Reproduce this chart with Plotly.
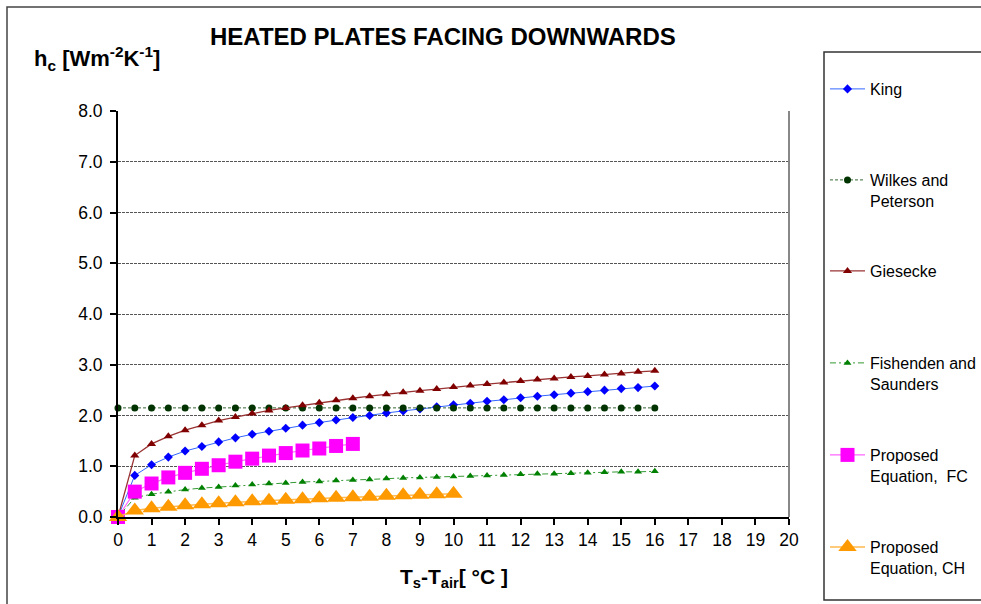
import plotly.graph_objects as go

# ---------------- data ----------------
x_half = [0, 0.5, 1, 1.5, 2, 2.5, 3, 3.5, 4, 4.5, 5, 5.5, 6, 6.5, 7, 7.5, 8,
          8.5, 9, 9.5, 10, 10.5, 11, 11.5, 12, 12.5, 13, 13.5, 14, 14.5, 15, 15.5, 16]

king = [0, 0.82, 1.03, 1.18, 1.30, 1.39, 1.48, 1.56, 1.63, 1.69, 1.75, 1.81, 1.86, 1.91,
        1.96, 2.00, 2.05, 2.09, 2.13, 2.17, 2.21, 2.24, 2.28, 2.31, 2.35, 2.38, 2.41,
        2.44, 2.47, 2.50, 2.53, 2.55, 2.58]

wilkes = [2.15, 2.15, 2.15, 2.15, 2.15, 2.15, 2.15, 2.15, 2.15, 2.15, 2.15, 2.15, 2.15,
          2.15, 2.15, 2.15, 2.15, 2.15, 2.15, 2.15, 2.15, 2.15, 2.15, 2.15, 2.15, 2.15,
          2.15, 2.15, 2.15, 2.15, 2.15, 2.15, 2.15]

giesecke = [0, 1.21, 1.44, 1.59, 1.71, 1.81, 1.90, 1.97, 2.04, 2.10, 2.15, 2.20, 2.25,
            2.30, 2.34, 2.38, 2.42, 2.46, 2.49, 2.52, 2.56, 2.59, 2.62, 2.65, 2.68, 2.71,
            2.73, 2.76, 2.78, 2.81, 2.83, 2.86, 2.88]

fishenden = [0, 0.38, 0.45, 0.50, 0.54, 0.57, 0.59, 0.62, 0.64, 0.66, 0.67, 0.69, 0.70,
             0.72, 0.73, 0.74, 0.76, 0.77, 0.78, 0.79, 0.80, 0.81, 0.82, 0.83, 0.84, 0.85,
             0.85, 0.86, 0.87, 0.88, 0.89, 0.89, 0.90]

x_fc = [0, 0.5, 1, 1.5, 2, 2.5, 3, 3.5, 4, 4.5, 5, 5.5, 6, 6.5, 7]
fc = [0, 0.50, 0.66, 0.78, 0.87, 0.95, 1.02, 1.09, 1.15, 1.21, 1.26, 1.31, 1.35, 1.40, 1.44]

x_ch = [0, 0.5, 1, 1.5, 2, 2.5, 3, 3.5, 4, 4.5, 5, 5.5, 6, 6.5, 7, 7.5, 8, 8.5, 9, 9.5, 10]
ch = [0, 0.13, 0.17, 0.20, 0.23, 0.25, 0.27, 0.29, 0.31, 0.32, 0.34, 0.35, 0.37, 0.38,
      0.39, 0.40, 0.42, 0.43, 0.44, 0.45, 0.46]

names = ["King", "Wilkes and<br>Peterson", "Giesecke", "Fishenden and<br>Saunders",
         "Proposed<br>Equation,  FC", "Proposed<br>Equation, CH"]

title_text = "HEATED PLATES FACING DOWNWARDS"
y_title = "h<sub>c</sub> [Wm<sup>-2</sup>K<sup>-1</sup>]"
x_title = "T<sub>s</sub>-T<sub>air</sub>[ °C ]"
x_ticks = list(range(0, 21))
y_ticks = [0, 1, 2, 3, 4, 5, 6, 7, 8]

# ---------------- layout helpers (pixel -> paper) ----------------
W, H = 981, 604
L, R, T, B = 118, 789, 111, 517


def px(p):
    return (p - L) / (R - L)


def py(p):
    return (B - p) / (B - T)


FONT = "Liberation Sans, Arial, sans-serif"

fig = go.Figure()

styles = [
    dict(line=dict(color="#3366FF", width=1), marker=dict(symbol="diamond", size=7, color="#0000FF")),
    dict(line=dict(color="#336633", width=1, dash="3px,2px"), marker=dict(symbol="circle", size=7, color="#003300")),
    dict(line=dict(color="#993333", width=1.3), marker=dict(symbol="triangle-up", size=8, color="#800000")),
    dict(line=dict(color="#339933", width=1, dash="6px,3px,2px,3px"), marker=dict(symbol="triangle-up", size=7, color="#008000")),
    dict(line=dict(color="#FF66FF", width=1.2), marker=dict(symbol="square", size=14, color="#FF00FF")),
    dict(line=dict(color="#FFB84D", width=1.5), marker=dict(symbol="triangle-up", size=16, color="#FF9900")),
]
xs = [x_half, x_half, x_half, x_half, x_fc, x_ch]
ys = [king, wilkes, giesecke, fishenden, fc, ch]
legend_ids = ["legend", "legend2", "legend3", "legend4", "legend5", "legend6"]

for i in range(6):
    fig.add_trace(go.Scatter(
        x=xs[i], y=ys[i], mode="lines+markers", name=names[i],
        line=styles[i]["line"], marker=styles[i]["marker"],
        cliponaxis=False, legend=legend_ids[i]))

# legend item first-line centre positions (pixels)
leg_y = [89, 180, 271, 363, 455, 547]
legend_common = dict(
    x=px(825), xanchor="left", yanchor="top",
    bgcolor="rgba(0,0,0,0)", borderwidth=0,
    font=dict(family=FONT, size=16, color="#000000"),
    valign="top", itemwidth=35,
)
layout_legends = {}
for i, lid in enumerate(legend_ids):
    layout_legends[lid] = dict(legend_common, y=py(leg_y[i] - 17))

fig.update_layout(
    width=W, height=H,
    margin=dict(l=L, r=W - R, t=T, b=H - B, autoexpand=False),
    paper_bgcolor="white", plot_bgcolor="white",
    font=dict(family=FONT, size=17, color="#000000"),
    showlegend=True,
    **layout_legends,
)

fig.update_xaxes(
    range=[0, 20], tickmode="array", tickvals=x_ticks,
    ticks="outside", ticklen=6, tickwidth=1.5, tickcolor="#000",
    showline=True, linecolor="#000", linewidth=2,
    showgrid=False, zeroline=False,
    tickfont=dict(family=FONT, size=17.5),
)
fig.update_yaxes(
    range=[0, 8], tickmode="array", tickvals=y_ticks, tickformat=".1f",
    ticks="outside", ticklen=6, tickwidth=1.5, tickcolor="#000",
    showline=True, linecolor="#000", linewidth=2,
    showgrid=True, gridcolor="#555555", gridwidth=1, griddash="3px,1px",
    zeroline=False, ticklabelstandoff=4,
    tickfont=dict(family=FONT, size=17.5),
)

shapes = [
    # right border of plot area
    dict(type="line", xref="paper", yref="paper", x0=1, x1=1, y0=0, y1=1,
         line=dict(color="#888888", width=2)),
    # outer chart border
    dict(type="rect", xref="paper", yref="paper", x0=px(7), x1=px(1010), y0=py(7), y1=py(640),
         line=dict(color="#444444", width=1.5)),
    # legend box
    dict(type="rect", xref="paper", yref="paper", x0=px(824), x1=px(1010), y0=py(52), y1=py(600),
         line=dict(color="#333333", width=1.5)),
]
fig.update_layout(shapes=shapes)

annotations = [
    dict(text="<b>" + title_text + "</b>", x=px(443), y=py(37), xref="paper", yref="paper",
         xanchor="center", yanchor="middle", showarrow=False,
         font=dict(family=FONT, size=24, color="#000")),
    dict(text="<b>" + y_title + "</b>", x=px(32), y=py(58), xref="paper", yref="paper",
         xanchor="left", yanchor="middle", showarrow=False,
         font=dict(family=FONT, size=22, color="#000")),
    dict(text="<b>" + x_title + "</b>", x=px(454), y=py(578), xref="paper", yref="paper",
         xanchor="center", yanchor="middle", showarrow=False,
         font=dict(family=FONT, size=21, color="#000")),
]
fig.update_layout(annotations=annotations)

fig.write_html("out.html")
